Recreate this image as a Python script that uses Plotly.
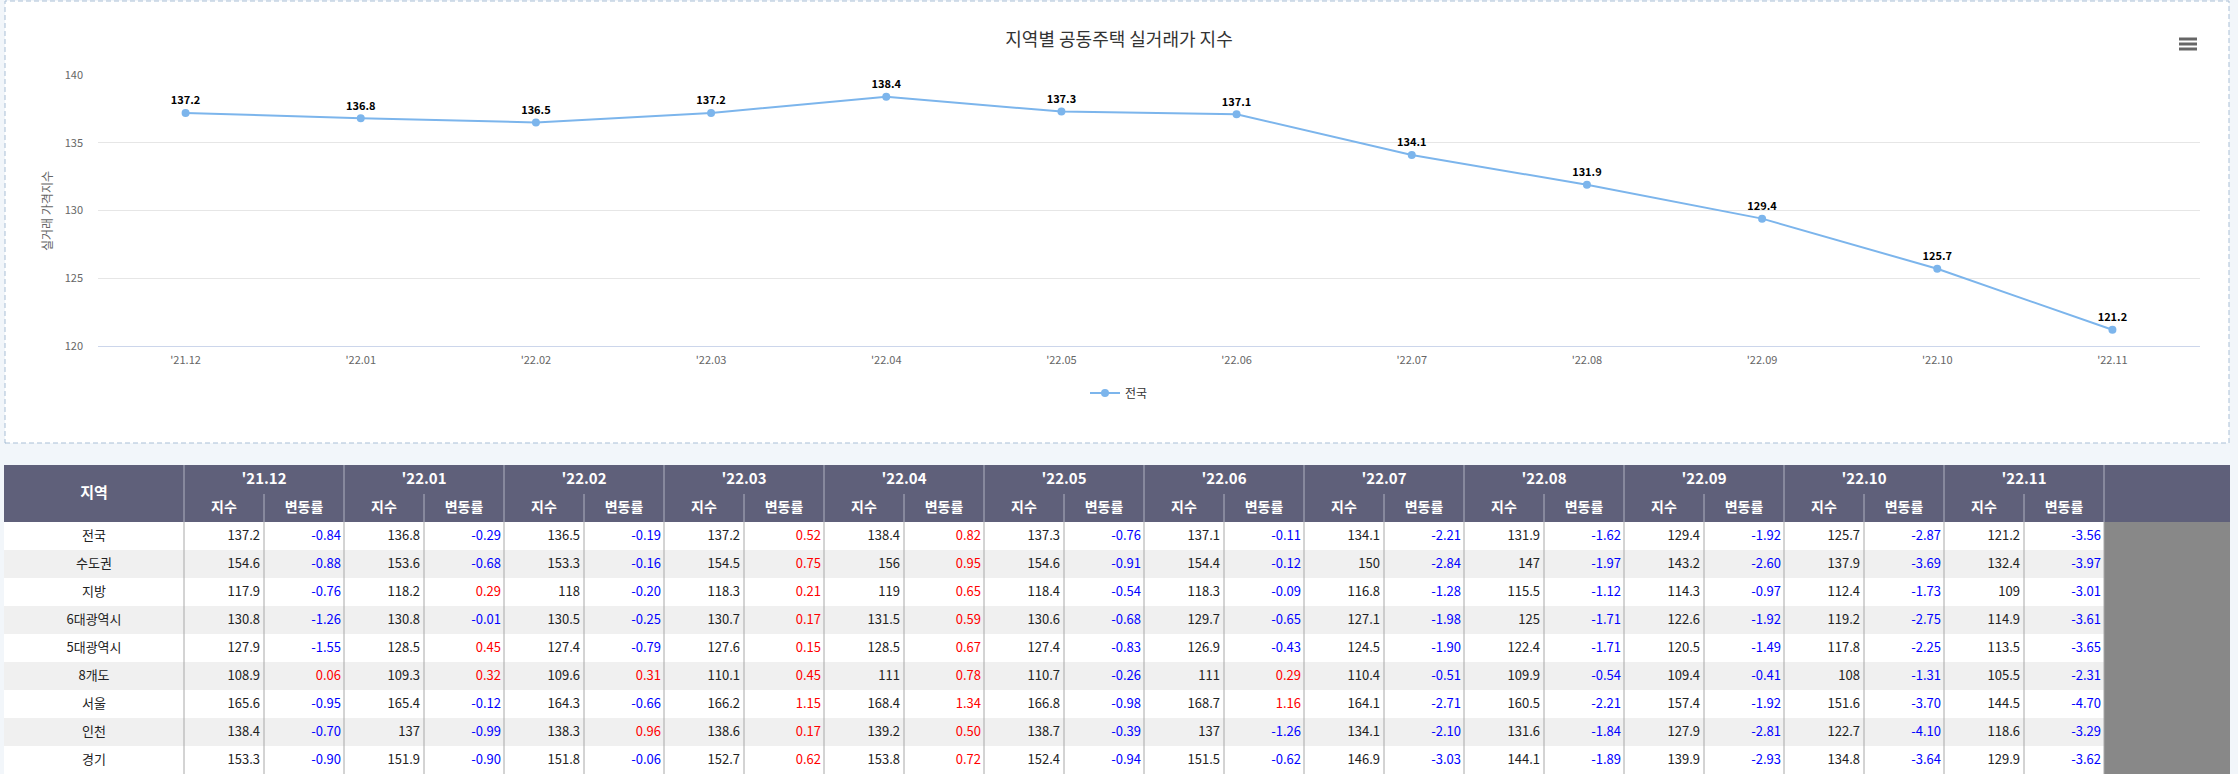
import plotly.graph_objects as go

# ---------------- data ----------------
months = ["'21.12", "'22.01", "'22.02", "'22.03", "'22.04", "'22.05",
          "'22.06", "'22.07", "'22.08", "'22.09", "'22.10", "'22.11"]
regions = ["전국", "수도권", "지방", "6대광역시", "5대광역시", "8개도", "서울", "인천", "경기"]

idx_jeonguk = [137.2, 136.8, 136.5, 137.2, 138.4, 137.3, 137.1, 134.1, 131.9, 129.4, 125.7, 121.2]
chg_jeonguk = [-0.84, -0.29, -0.19, 0.52, 0.82, -0.76, -0.11, -2.21, -1.62, -1.92, -2.87, -3.56]
idx_sudogwon = [154.6, 153.6, 153.3, 154.5, 156, 154.6, 154.4, 150, 147, 143.2, 137.9, 132.4]
chg_sudogwon = [-0.88, -0.68, -0.16, 0.75, 0.95, -0.91, -0.12, -2.84, -1.97, -2.60, -3.69, -3.97]
idx_jibang = [117.9, 118.2, 118, 118.3, 119, 118.4, 118.3, 116.8, 115.5, 114.3, 112.4, 109]
chg_jibang = [-0.76, 0.29, -0.20, 0.21, 0.65, -0.54, -0.09, -1.28, -1.12, -0.97, -1.73, -3.01]
idx_6metro = [130.8, 130.8, 130.5, 130.7, 131.5, 130.6, 129.7, 127.1, 125, 122.6, 119.2, 114.9]
chg_6metro = [-1.26, -0.01, -0.25, 0.17, 0.59, -0.68, -0.65, -1.98, -1.71, -1.92, -2.75, -3.61]
idx_5metro = [127.9, 128.5, 127.4, 127.6, 128.5, 127.4, 126.9, 124.5, 122.4, 120.5, 117.8, 113.5]
chg_5metro = [-1.55, 0.45, -0.79, 0.15, 0.67, -0.83, -0.43, -1.90, -1.71, -1.49, -2.25, -3.65]
idx_8do = [108.9, 109.3, 109.6, 110.1, 111, 110.7, 111, 110.4, 109.9, 109.4, 108, 105.5]
chg_8do = [0.06, 0.32, 0.31, 0.45, 0.78, -0.26, 0.29, -0.51, -0.54, -0.41, -1.31, -2.31]
idx_seoul = [165.6, 165.4, 164.3, 166.2, 168.4, 166.8, 168.7, 164.1, 160.5, 157.4, 151.6, 144.5]
chg_seoul = [-0.95, -0.12, -0.66, 1.15, 1.34, -0.98, 1.16, -2.71, -2.21, -1.92, -3.70, -4.70]
idx_incheon = [138.4, 137, 138.3, 138.6, 139.2, 138.7, 137, 134.1, 131.6, 127.9, 122.7, 118.6]
chg_incheon = [-0.70, -0.99, 0.96, 0.17, 0.50, -0.39, -1.26, -2.10, -1.84, -2.81, -4.10, -3.29]
idx_gyeonggi = [153.3, 151.9, 151.8, 152.7, 153.8, 152.4, 151.5, 146.9, 144.1, 139.9, 134.8, 129.9]
chg_gyeonggi = [-0.90, -0.90, -0.06, 0.62, 0.72, -0.94, -0.62, -3.03, -1.89, -2.93, -3.64, -3.62]

index_rows = [idx_jeonguk, idx_sudogwon, idx_jibang, idx_6metro, idx_5metro,
              idx_8do, idx_seoul, idx_incheon, idx_gyeonggi]
change_rows = [chg_jeonguk, chg_sudogwon, chg_jibang, chg_6metro, chg_5metro,
               chg_8do, chg_seoul, chg_incheon, chg_gyeonggi]

chart_title = "지역별 공동주택 실거래가 지수"
y_title = "실거래 가격지수"
series_name = "전국"
hdr_region = "지역"
hdr_sub = ["지수", "변동률"]

# ---------------- layout constants (pixels) ----------------
W, H = 2238, 774
FONT = "Noto Sans CJK KR, Noto Sans, sans-serif"
LINE_COLOR = "#7cb5ec"
TBL_L, TBL_R = 4, 2230
REG_R = 184
GRP_W, SUB_W = 160, 80
HDR_T, HDR_M, HDR_B = 465, 494, 522
ROW_H = 28
HDR_FILL = "#5f607a"
HDR_LINE = "#b0b1c0"
BODY_LINE = "#a8a8a8"
ALT_FILL = "#f0f0f0"
FILLER = "#888888"

def px(x):
    return x / W

def py(y):
    return 1 - y / H

fig = go.Figure()

# ---------------- line chart ----------------
fig.add_trace(go.Scatter(
    x=months, y=idx_jeonguk, name=series_name,
    mode="lines+markers+text",
    line=dict(color=LINE_COLOR, width=2),
    marker=dict(color=LINE_COLOR, size=8),
    text=[f"{v:.1f}" for v in idx_jeonguk],
    textposition="top center",
    textfont=dict(size=11, color="#000", family=FONT, weight=700),
    xaxis="x", yaxis="y", cliponaxis=False,
))

# ---------------- table ----------------
n_groups = len(months)
tbl_body_r = REG_R + GRP_W * n_groups
n_rows = len(regions)
body_b = HDR_B + ROW_H * n_rows

shapes = []
# chart box (paper coords, below everything)
shapes.append(dict(type="rect", xref="paper", yref="paper",
                   x0=px(5), x1=px(2229), y0=py(443), y1=py(1),
                   fillcolor="white", line=dict(color="#a9bfd6", width=1, dash="5px,3px"),
                   layer="below"))
# hamburger icon
for k in range(3):
    yy = 39 + 5 * k
    shapes.append(dict(type="line", xref="paper", yref="paper",
                       x0=px(2179), x1=px(2197), y0=py(yy), y1=py(yy),
                       line=dict(color="#666666", width=3), layer="above"))

def rect(x0, x1, y0, y1, fill):
    shapes.append(dict(type="rect", xref="x2", yref="y2", x0=x0, x1=x1, y0=y0, y1=y1,
                       fillcolor=fill, line=dict(width=0), layer="below"))

def vline(x, y0, y1, color):
    shapes.append(dict(type="line", xref="x2", yref="y2", x0=x, x1=x, y0=y0, y1=y1,
                       line=dict(color=color, width=1), layer="below"))

# header
rect(TBL_L, TBL_R, HDR_T, HDR_B, HDR_FILL)
# body rows
for r in range(n_rows):
    y0 = HDR_B + ROW_H * r
    rect(TBL_L, tbl_body_r, y0, y0 + ROW_H, ALT_FILL if r % 2 else "white")
rect(tbl_body_r, TBL_R, HDR_B, body_b, FILLER)

# header vertical lines
vline(REG_R, HDR_T, HDR_B, HDR_LINE)
for g in range(n_groups):
    gx = REG_R + GRP_W * g
    vline(gx + SUB_W, HDR_M, HDR_B, HDR_LINE)
    vline(gx + GRP_W, HDR_T, HDR_B, HDR_LINE)
# body vertical lines
vline(REG_R, HDR_B, body_b, BODY_LINE)
for g in range(n_groups):
    gx = REG_R + GRP_W * g
    vline(gx + SUB_W, HDR_B, body_b, BODY_LINE)
    vline(gx + GRP_W, HDR_B, body_b, BODY_LINE)

# header texts
hx, hy, ht = [], [], []
hx.append((TBL_L + REG_R) / 2); hy.append(HDR_M); ht.append(hdr_region)
for g, m in enumerate(months):
    gx = REG_R + GRP_W * g
    hx.append(gx + GRP_W / 2); hy.append((HDR_T + HDR_M) / 2 + 1); ht.append(m)
fig.add_trace(go.Scatter(x=hx, y=hy, text=ht, mode="text", textposition="middle center",
                         textfont=dict(size=15, color="white", family=FONT, weight=700),
                         xaxis="x2", yaxis="y2", showlegend=False, hoverinfo="skip"))
sx, sy, st = [], [], []
for g in range(n_groups):
    gx = REG_R + GRP_W * g
    for s in range(2):
        sx.append(gx + SUB_W * s + SUB_W / 2); sy.append((HDR_M + HDR_B) / 2); st.append(hdr_sub[s])
fig.add_trace(go.Scatter(x=sx, y=sy, text=st, mode="text", textposition="middle center",
                         textfont=dict(size=14, color="white", family=FONT, weight=700),
                         xaxis="x2", yaxis="y2", showlegend=False, hoverinfo="skip"))

# body texts
rx, ry = [], []
ix, iy, itxt = [], [], []
cx, cy, ctxt, ccol = [], [], [], []
for r, name in enumerate(regions):
    yc = HDR_B + ROW_H * r + ROW_H / 2 + 1
    rx.append((TBL_L + REG_R) / 2); ry.append(yc)
    for g in range(n_groups):
        gx = REG_R + GRP_W * g
        ix.append(gx + SUB_W - 4); iy.append(yc); itxt.append(f"{index_rows[r][g]:g}")
        v = change_rows[r][g]
        cx.append(gx + GRP_W - 3); cy.append(yc); ctxt.append(f"{v:.2f}")
        ccol.append("#ff0000" if v > 0 else "#0000ff")
fig.add_trace(go.Scatter(x=rx, y=ry, text=regions, mode="text", textposition="middle center",
                         textfont=dict(size=13, color="#222", family=FONT),
                         xaxis="x2", yaxis="y2", showlegend=False, hoverinfo="skip"))
fig.add_trace(go.Scatter(x=ix, y=iy, text=itxt, mode="text", textposition="middle left",
                         textfont=dict(size=13, color="#222", family=FONT),
                         xaxis="x2", yaxis="y2", showlegend=False, hoverinfo="skip"))
fig.add_trace(go.Scatter(x=cx, y=cy, text=ctxt, mode="text", textposition="middle left",
                         textfont=dict(size=13, color=ccol, family=FONT),
                         xaxis="x2", yaxis="y2", showlegend=False, hoverinfo="skip"))

fig.update_layout(
    width=W, height=H, margin=dict(l=0, r=0, t=0, b=0, pad=0, autoexpand=False),
    paper_bgcolor="#f2f6fa", plot_bgcolor="rgba(0,0,0,0)",
    font=dict(family=FONT, color="#333"),
    title=dict(text=chart_title, x=0.5, xanchor="center", y=py(40), yanchor="middle",
               font=dict(size=18, color="#333", family=FONT)),
    xaxis=dict(domain=[px(98), px(2200)], range=[-0.5, 11.5], type="category",
               showgrid=False, showline=True, linecolor="#ccd6eb", ticks="",
               tickfont=dict(size=11, color="#666"), ticklabelstandoff=4,
               anchor="y", fixedrange=True, automargin=False),
    yaxis=dict(domain=[py(346), py(75)], range=[120, 140], dtick=5,
               gridcolor="#e6e6e6", zeroline=False, showline=False, ticks="",
               tickfont=dict(size=11, color="#666"), ticklabelstandoff=14,
               anchor="x", fixedrange=True, automargin=False),
    xaxis2=dict(domain=[0, 1], range=[0, W], visible=False, anchor="y2",
                fixedrange=True, automargin=False),
    yaxis2=dict(domain=[0, 1], range=[H, 0], visible=False, anchor="x2",
                fixedrange=True, automargin=False),
    legend=dict(orientation="h", x=0.5, xanchor="center", y=py(393), yanchor="middle",
                font=dict(size=12, color="#333"), bgcolor="rgba(0,0,0,0)"),
    shapes=shapes,
    annotations=[dict(text=y_title, xref="paper", yref="paper", x=px(47), y=py(211),
                      textangle=-90, showarrow=False, font=dict(size=12, color="#666"),
                      xanchor="center", yanchor="middle")],
)

fig.write_html("out.html", config={"displayModeBar": False},
               post_script="document.body.style.margin='0';document.body.style.overflow='hidden';")
